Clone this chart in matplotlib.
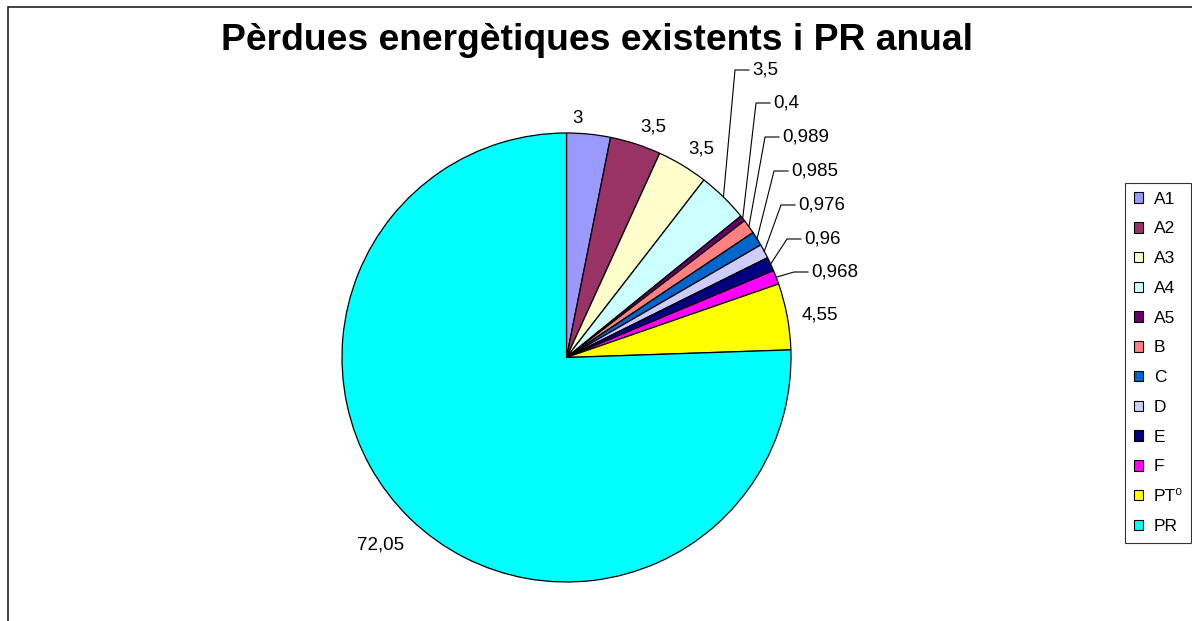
import numpy as np
import matplotlib.pyplot as plt
from matplotlib.patches import Patch, Rectangle

plt.rcParams['font.family'] = ['Liberation Sans', 'DejaVu Sans']

# data
categories = ["A1", "A2", "A3", "A4", "A5", "B", "C", "D", "E", "F", "PT\u2070", "PR"]
values = [3, 3.5, 3.5, 3.5, 0.4, 0.989, 0.985, 0.976, 0.96, 0.968, 4.55, 72.05]
labels = ["3", "3,5", "3,5", "3,5", "0,4", "0,989", "0,985", "0,976", "0,96", "0,968", "4,55", "72,05"]
colors = ["#9999FF", "#993366", "#FFFFCC", "#CCFFFF", "#660066", "#FF8080",
          "#0066CC", "#CCCCFF", "#000080", "#FF00FF", "#FFFF00", "#00FFFF"]

W, H = 1192, 621
fig = plt.figure(figsize=(W / 100, H / 100), dpi=100)
ax = fig.add_axes([0, 0, 1, 1])

# pie geometry in pixels
cx, cy, R = 566.5, H - 357.5, 224.5
wedges, _ = ax.pie(values, colors=colors, startangle=90, counterclock=False,
                   center=(cx, cy), radius=R, frame=True,
                   wedgeprops=dict(edgecolor='black', linewidth=0.9))
ax.set_xlim(0, W)
ax.set_ylim(0, H)
ax.set_aspect('equal')
ax.axis('off')

# outer chart frame (runs off the right and bottom edges)
fig.patches.append(Rectangle((8 / W, -0.1), 1.0, 1.1 - 7 / H, transform=fig.transFigure,
                             fill=False, edgecolor='#222222', linewidth=1.2))

fs = 13.5
# labels with leader lines (stacked at the right)
leader_text = {3: (752, 70), 4: (773, 103), 5: (782, 137), 6: (791, 171),
               7: (798, 205), 8: (804, 239), 9: (811, 272)}
# small nudges (px) for the outside labels
nudge = {0: (-13, -4), 1: (11, -4), 2: (6, -4), 10: (4, -4), 11: (-8, -3)}

total = sum(values)
cum = np.cumsum([0] + values)
for i, lab in enumerate(labels):
    mid = (cum[i] + cum[i + 1]) / 2 / total * 2 * np.pi
    s, c = np.sin(mid), np.cos(mid)
    if i in leader_text:
        tx, ty = leader_text[i]
        ty = H - ty
        ex, ey = cx + R * s, cy + R * c
        ax.plot([ex, tx - 17, tx - 3], [ey, ty, ty], color='black', linewidth=0.8)
        ax.text(tx, ty, lab, fontsize=fs, ha='left', va='center')
    else:
        w = 9.5 * len(lab) - (5 if ',' in lab else 0)
        h = 14
        r = R + 12 + abs(s) * w / 2 + abs(c) * h / 2
        dx, dy = nudge.get(i, (0, 0))
        ax.text(cx + r * s + dx, cy + r * c + dy, lab, fontsize=fs,
                ha='center', va='center')

fig.text(597 / W, 1 - 41 / H, "Pèrdues energètiques existents i PR anual",
         fontsize=26.8, fontweight='bold', ha='center', va='center')

handles = [Patch(facecolor=col, edgecolor='black', linewidth=0.8) for col in colors]
leg = fig.legend(handles, categories, loc='upper left',
                 bbox_to_anchor=(1125 / W, 1 - 183 / H), fontsize=12.5,
                 frameon=True, fancybox=False, edgecolor='black',
                 handlelength=0.55, handleheight=0.55, handletextpad=0.6,
                 labelspacing=0.85, borderpad=0.5, borderaxespad=0)
leg.get_frame().set_linewidth(0.8)

fig.savefig("out.png", dpi=100)
